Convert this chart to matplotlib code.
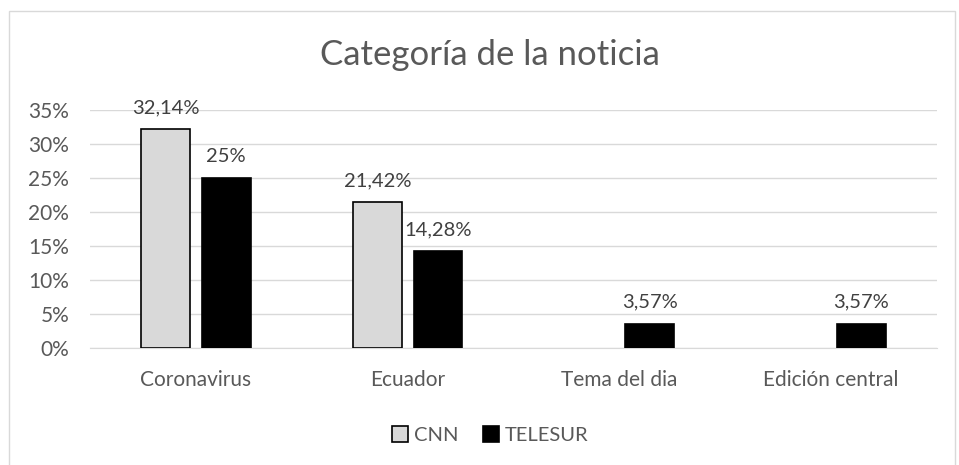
import matplotlib
matplotlib.use("Agg")
import matplotlib.pyplot as plt
from matplotlib.patches import Rectangle
import numpy as np

categories = ["Coronavirus", "Ecuador", "Tema del dia", "Edición central"]
cnn = [32.14, 21.42, 0, 0]
telesur = [25, 14.28, 3.57, 3.57]
cnn_labels = ["32,14%", "21,42%", "", ""]
telesur_labels = ["25%", "14,28%", "3,57%", "3,57%"]
yticks = [0, 5, 10, 15, 20, 25, 30, 35]

plt.rcParams['font.family'] = ['Lato', 'DejaVu Sans']
W, H = 959, 465
fig = plt.figure(figsize=(W/100, H/100), dpi=100)
fig.patches.append(Rectangle((9/W, -0.01), (955-9)/W, 1 - 11/H + 0.01, transform=fig.transFigure,
                             fill=False, edgecolor='#d9d9d9', linewidth=1))
ax = fig.add_axes([90/W, 1-348/H, (937-90)/W, (348-110)/H])
x = np.arange(len(categories))
bw = 0.23
off = 0.143
txt = '#595959'
b1 = ax.bar(x-off, cnn, bw, color='#d9d9d9', edgecolor='black',
            linewidth=[1.2 if v > 0 else 0 for v in cnn], label='CNN', zorder=3)
b2 = ax.bar(x+off, telesur, bw, color='black', edgecolor='black', linewidth=1.2, label='TELESUR', zorder=3)
for i in range(len(categories)):
    if cnn_labels[i]:
        ax.text(x[i]-off, cnn[i]+1.9, cnn_labels[i], ha='center', va='bottom', fontsize=14.5, color='#404040')
    ax.text(x[i]+off, telesur[i]+1.9, telesur_labels[i], ha='center', va='bottom', fontsize=14.5, color='#404040')
ax.set_xlim(-0.5, 3.5)
ax.set_ylim(0, 35)
ax.set_yticks(yticks)
ax.set_yticklabels([f"{v}%" for v in yticks], fontsize=15, color=txt)
ax.set_xticks(x)
ax.set_xticklabels(categories, fontsize=15, color=txt)
ax.tick_params(axis='y', length=0, pad=15)
ax.tick_params(axis='x', length=0, pad=16)
ax.grid(axis='y', color='#d9d9d9', linewidth=1, zorder=0)
for s in ['top', 'right', 'left']:
    ax.spines[s].set_visible(False)
ax.spines['bottom'].set_color('#d9d9d9')
fig.text(490/W, 1-55/H, "Categoría de la noticia", ha='center', va='center', fontsize=25, color=txt)
leg = fig.legend(handles=[b1, b2], loc='center', bbox_to_anchor=(490/W, 1-435/H), ncol=2, frameon=False,
                 fontsize=14.5, handlelength=0.8, handleheight=0.8, handletextpad=0.3, columnspacing=1.2)
for t in leg.get_texts():
    t.set_color(txt)
fig.savefig("out.png", dpi=100)
